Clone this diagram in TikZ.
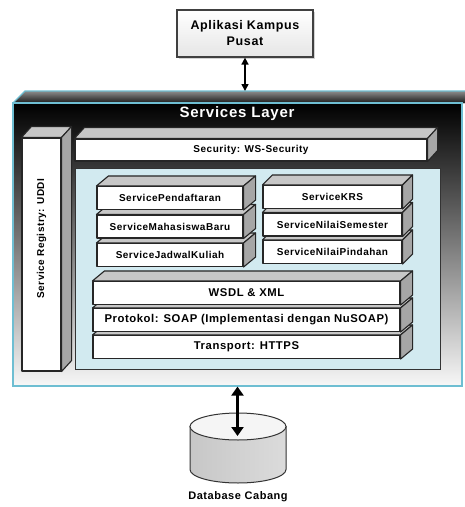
\documentclass[tikz,border=0pt]{standalone}
\usepackage{fontspec}
\setmainfont{Liberation Sans}[LetterSpace=5]
\usetikzlibrary{arrows.meta,shadows}
\definecolor{edgeblue}{RGB}{110,190,210}
\definecolor{panelblue}{RGB}{210,234,240}
\tikzset{
  face/.style={draw=black!85, line width=1.1pt, line join=round},
  front/.style={face, fill=white, inner sep=0pt, font=\bfseries\fontsize{10}{12}\selectfont},
  topface/.style={face, fill=black!22},
  sideface/.style={face, fill=black!35},
  svcleft/.style={front, minimum width=146pt, minimum height=23pt},
  svcright/.style={front, minimum width=139pt, minimum height=23pt},
  proto/.style={front, minimum width=307pt, minimum height=23pt, font=\bfseries\fontsize{11.3}{13}\selectfont},
  dblarrow/.style={line width=1.6pt, {Triangle[width=7pt,length=7pt]}-{Triangle[width=7pt,length=7pt]}},
  bigarrow/.style={line width=3.2pt, {Triangle[width=12pt,length=9pt]}-{Triangle[width=12pt,length=9pt]}}
}
\newcommand\cubefaces[3]{%
  \draw[topface] (#1.north west) -- ++(#2,#3) -- ([shift={(#2,#3)}]#1.north east) -- (#1.north east) -- cycle;
  \draw[sideface] (#1.north east) -- ([shift={(#2,#3)}]#1.north east) -- ([shift={(#2,#3)}]#1.south east) -- (#1.south east) -- cycle;}
\begin{document}
\begin{tikzpicture}[x=1pt,y=-1pt]
  \useasboundingbox (0,0) rectangle (465,507);
  \fill[top color=black!45, bottom color=black!90] (13,103) -- (25,91) -- (466,91) -- (466,103) -- cycle;
  \draw[edgeblue, line width=1.2pt] (13,103) -- (25,91) -- (466,91);
  \node[draw=edgeblue, line width=1.2pt, top color=black, middle color=black!75, bottom color=black!3,
    minimum width=449pt, minimum height=283pt] (layer) at (237.5,244.5) {};
  \node[text=white, font=\bfseries\fontsize{15}{18}\selectfont] (title) at (237,114) {Services Layer};

  \node[front, minimum width=39pt, minimum height=233pt] (uddi) at (41.5,254.5) {};
  \cubefaces{uddi}{10}{-11}
  \node[rotate=90, font=\bfseries\fontsize{10}{12}\selectfont] (uddilbl) at ([yshift=16pt]uddi.center) {Service Registry: UDDI};

  \node[front, minimum width=352pt, minimum height=22pt] (sec) at (251,150) {Security: WS-Security};
  \cubefaces{sec}{10}{-11}

  \node[draw=black!80, line width=1pt, fill=panelblue, minimum width=365pt, minimum height=201pt] (panel) at (257.5,268.5) {};

  \foreach \n/\y/\t in {trans/347/Transport: HTTPS, soap/320/Protokol: SOAP (Implementasi dengan NuSOAP), wsdl/293/WSDL \& XML}{
    \node[proto] (\n) at (246.5,\y) {\t};
    \cubefaces{\n}{12}{-10}
  }
  \foreach \n/\y/\t in {jadwal/255/ServiceJadwalKuliah, mhs/226.5/ServiceMahasiswaBaru, daftar/198/ServicePendaftaran}{
    \node[svcleft] (\n) at (170,\y) {\t};
    \cubefaces{\n}{12}{-10}
  }
  \foreach \n/\y/\t in {pindah/252/ServiceNilaiPindahan, nilai/224.5/ServiceNilaiSemester, krs/197/ServiceKRS}{
    \node[svcright] (\n) at (332.5,\y) {\t};
    \cubefaces{\n}{10}{-10}
  }

  \node[draw=black!75, line width=1.2pt, top color=white, bottom color=black!10,
    drop shadow={shadow xshift=1.5pt, shadow yshift=-1.5pt, opacity=0.35},
    minimum width=136pt, minimum height=47pt, align=center,
    font=\bfseries\fontsize{12.5}{16}\selectfont] (apk) at (245,33.5) {Aplikasi Kampus\\Pusat};
  \coordinate (roof) at (245,91);
  \draw[dblarrow] (apk.south) -- (roof);

  \coordinate (db) at (238,426.5);
  \draw[draw=black!80, line width=1pt, left color=black!22, middle color=black!3, right color=black!14]
    (190,426.5) -- (190,469.5) arc[start angle=180, end angle=360, x radius=48pt, y radius=13.5pt] -- (286,426.5) -- cycle;
  \draw[draw=black!80, line width=1pt, fill=black!4] (db) ellipse[x radius=48pt, y radius=13.5pt];
  \coordinate (dbtop) at (237.5,436);
  \draw[bigarrow] (layer.south) -- (dbtop);
  \node[font=\bfseries\fontsize{11}{13}\selectfont] (dblbl) at (238,497) {Database Cabang};
\end{tikzpicture}
\end{document}
